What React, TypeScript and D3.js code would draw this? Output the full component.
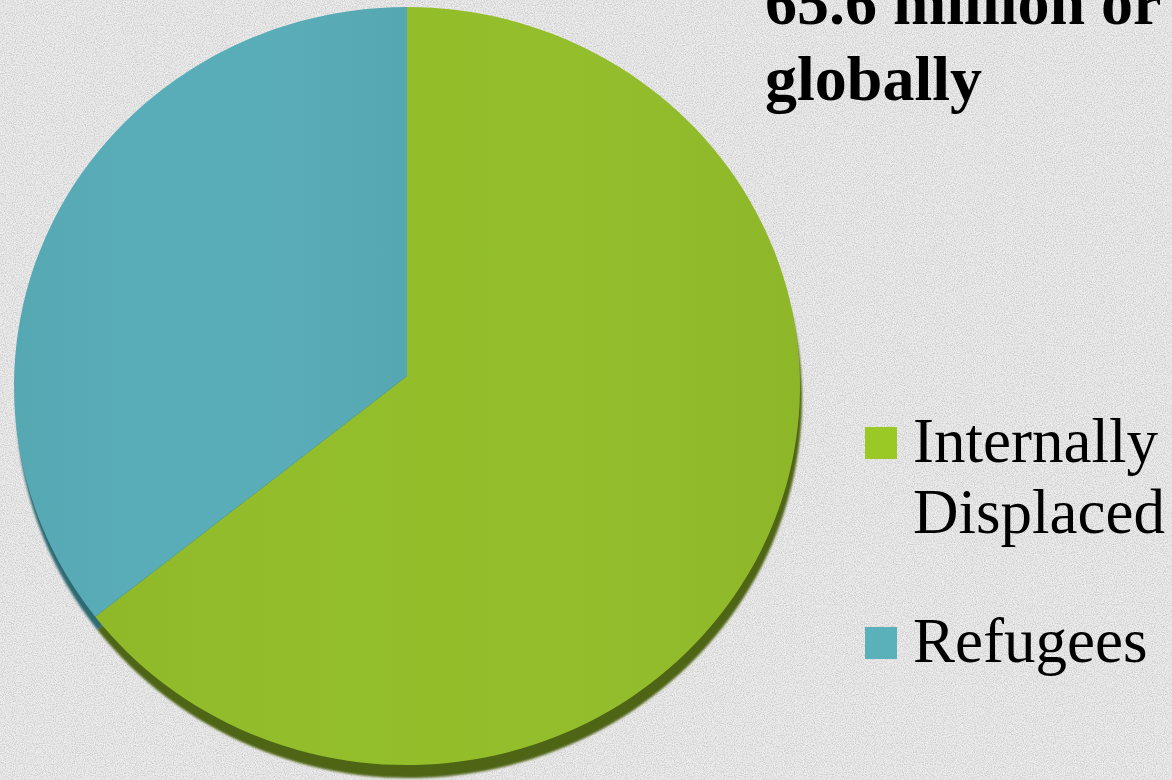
import React from "react";
import * as d3 from "d3";

const categories = ["Internally Displaced", "Refugees"];
const values = [40.3, 22.1];
const colors = ["#93be2a", "#58adb8"];
const shadowColors = ["#4f6512", "#2f6b72"];
const legendColors = ["#9ac824", "#5ab1ba"];
const titleLines = ["65.6 million or", "globally"];
const legendLines = [["Internally", "Displaced"], ["Refugees"]];

const W = 1172;
const H = 780;

export default function App() {
  const cx = 407;
  const cy = 386;
  const rx = 393;
  const ry = 379;
  const vx = 407;
  const vy = 376;

  const pie = d3.pie<number>().sort(null).value((d) => d);
  const arcs = pie(values);

  const pt = (a: number, dx = 0, dy = 0) => [
    cx + dx + rx * Math.sin(a),
    cy + dy - ry * Math.cos(a),
  ];

  const slicePath = (s: d3.PieArcDatum<number>, dx = 0, dy = 0) => {
    const p = d3.path();
    const [x0, y0] = pt(s.startAngle, dx, dy);
    const [x1, y1] = pt(s.endAngle, dx, dy);
    const large = s.endAngle - s.startAngle > Math.PI ? 1 : 0;
    return `M${vx + dx},${vy + dy}L${x0},${y0}A${rx},${ry} 0 ${large} 1 ${x1},${y1}Z`;
  };

  const legendY = [462, 662];

  return (
    <svg
      width={W}
      height={H}
      style={{ position: "absolute", left: 0, top: 0 }}
    >
      <defs>
        <filter id="paper" x="0" y="0" width="100%" height="100%">
          <feTurbulence type="fractalNoise" baseFrequency="0.9" numOctaves="2" seed="3" />
          <feColorMatrix type="matrix" values="0 0 0 0 0  0 0 0 0 0  0 0 0 0 0  0 0 0 -0.9 0.55" />
        </filter>
        <filter id="blur" x="-5%" y="-5%" width="110%" height="110%">
          <feGaussianBlur stdDeviation="1.2" />
        </filter>
        <linearGradient id="shadeG" x1="0" x2="1" y1="0" y2="0">
          <stop offset="0" stopColor="#000" stopOpacity="0.03" />
          <stop offset="0.5" stopColor="#fff" stopOpacity="0.0" />
          <stop offset="1" stopColor="#000" stopOpacity="0.04" />
        </linearGradient>
      </defs>
      <rect x={0} y={0} width={W} height={H} fill="#ebebeb" />
      <rect x={0} y={0} width={W} height={H} filter="url(#paper)" opacity={0.35} />

      <g filter="url(#blur)">
        {arcs.map((s, i) => (
          <path key={"sh" + i} d={slicePath(s, 2, 13)} fill={shadowColors[i]} />
        ))}
      </g>
      {arcs.map((s, i) => (
        <path key={"s" + i} d={slicePath(s)} fill={colors[i]} />
      ))}
      {arcs.map((s, i) => (
        <path key={"g" + i} d={slicePath(s)} fill="url(#shadeG)" />
      ))}

      <g fontFamily="'Liberation Serif', 'Times New Roman', serif" fontWeight="bold" fontSize={64} fill="#000">
        {titleLines.map((t, i) => (
          <text key={t} x={765} y={24 + i * 76}>{t}</text>
        ))}
      </g>

      <g fontFamily="'Liberation Serif', 'Times New Roman', serif" fontSize={63} fill="#000">
        {categories.map((c, i) => (
          <g key={c}>
            <rect x={865} y={legendY[i] - 35} width={32} height={32} fill={legendColors[i]} />
            {legendLines[i].map((ln, j) => (
              <text key={ln} x={913} y={legendY[i] + j * 71}>{ln}</text>
            ))}
          </g>
        ))}
      </g>
    </svg>
  );
}
